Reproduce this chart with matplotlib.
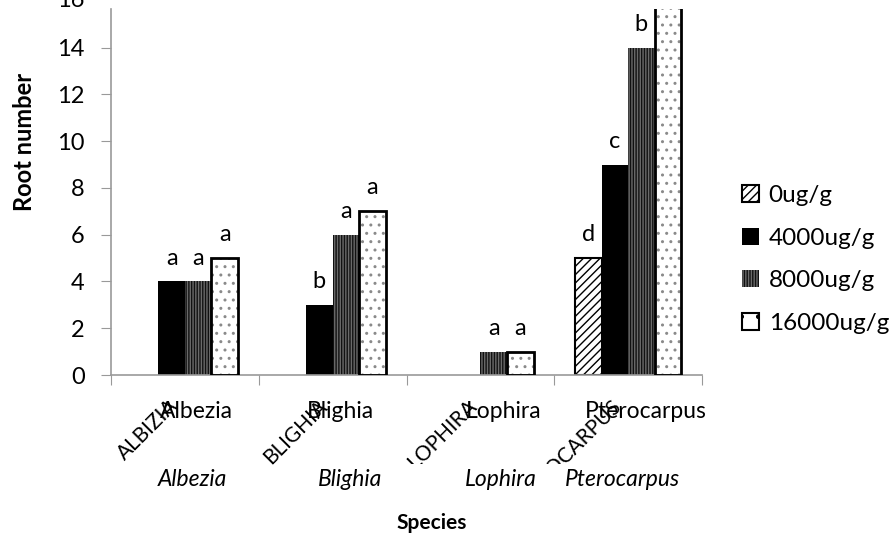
import matplotlib
matplotlib.use("Agg")
import matplotlib.pyplot as plt
from matplotlib.patches import Patch
from matplotlib.transforms import Bbox, TransformedBbox
import numpy as np

# data
species = ["Albezia", "Blighia", "Lophira", "Pterocarpus"]
species_caps = ["ALBIZIA", "BLIGHIA", "LOPHIRA", "PTEROCARPUS"]
doses = ["0ug/g", "4000ug/g", "8000ug/g", "16000ug/g"]
roots_0 = [0, 0, 0, 5]
roots_4000 = [4, 3, 0, 9]
roots_8000 = [4, 6, 1, 14]
roots_16000 = [5, 7, 1, 16]
letters_0 = ["", "", "", "d"]
letters_4000 = ["a", "b", "", "c"]
letters_8000 = ["a", "a", "a", "b"]
letters_16000 = ["a", "a", "a", ""]

plt.rcParams["font.family"] = ["Lato", "DejaVu Sans"]
plt.rcParams["hatch.linewidth"] = 1.0

fig = plt.figure(figsize=(8.96, 5.4), dpi=100)
ax = fig.add_axes([111 / 896, 1 - 375 / 540, 591 / 896, 366 / 540])

x = np.arange(len(species))
w = 0.18

series = [
    (roots_0, letters_0, dict(facecolor="white", edgecolor="black", hatch="////", linewidth=1.5)),
    (roots_4000, letters_4000, dict(facecolor="black", edgecolor="black", linewidth=0)),
    (roots_8000, letters_8000, dict(facecolor="#111111", edgecolor="#6a6a6a", hatch="||||||", linewidth=0)),
    (roots_16000, letters_16000, dict(facecolor="white", edgecolor="#8a8a8a", hatch="..", linewidth=0)),
]

handles = []
for k, (vals, lets, style) in enumerate(series):
    pos = x + (k - 1.5) * w
    vals = np.array(vals)
    keep = vals > 0  # empty groups show no bar at all
    ax.bar(pos[keep], vals[keep], width=w, zorder=2, **style)
    if k == 3:
        # dark outline on the dotted bars
        ax.bar(pos[keep], vals[keep], width=w, fill=False, edgecolor="black", linewidth=2, zorder=3)
        handles.append(Patch(facecolor="white", edgecolor="black", hatch=".", linewidth=1.5))
    else:
        handles.append(Patch(**style))
    for p, v, t in zip(pos, vals, lets):
        if t:
            ax.text(p, v + 1, t, ha="center", va="center", fontsize=17, zorder=4)

ax.set_xlim(-0.5, 3.5)
ax.set_ylim(0, 15.65)
ax.set_yticks(range(0, 16, 2))
ax.tick_params(axis="y", labelsize=17, length=7, color="#999999", pad=12)
ax.set_xticks(np.arange(-0.5, 4, 1))
ax.set_xticklabels([])
ax.tick_params(axis="x", length=7, color="#999999")
for s in ["top", "right"]:
    ax.spines[s].set_visible(False)
for s in ["left", "bottom"]:
    ax.spines[s].set_color("#999999")
    ax.spines[s].set_linewidth(1.2)

# the 16 label sits half outside the figure in the reference
ax.text(-26 / 591, 16, "16", transform=ax.get_yaxis_transform(), ha="right", va="center",
        fontsize=17, clip_on=False)

# three layers of category labels, as in the reference
normal_off = [0.08, 0.05, 0.16, 0.12]
italic_off = [0.05, 0.12, 0.14, -0.04]
caps_off = [-0.02, -0.01, 0.0, -0.02]
trans = ax.get_xaxis_transform()
clip = TransformedBbox(Bbox([[0, 76 / 540], [1, 1]]), fig.transFigure)
for i, name in enumerate(species):
    y_norm = -(411 - 375) / 366
    y_ital = -(480 - 375) / 366
    y_caps = -(396 - 375) / 366
    ax.text(i + normal_off[i], y_norm, name, transform=trans, ha="center", va="center",
            fontsize=16.5, clip_on=False)
    ax.text(i + italic_off[i], y_ital, name, transform=trans, ha="center", va="center",
            fontsize=16.5, style="italic", clip_on=False)
    t = ax.text(i + caps_off[i], y_caps, species_caps[i], transform=trans, ha="right", va="top",
                rotation=45, fontsize=15, clip_on=(i >= 2))
    if i >= 2:
        t.set_clip_box(clip)

fig.text(25 / 896, 1 - 142 / 540, "Root number", rotation=90, ha="center", va="center",
         fontsize=17, fontweight="bold")
fig.text(432 / 896, 1 - 523 / 540, "Species", ha="center", va="center",
         fontsize=15, fontweight="bold")

fig.legend(handles, doses, loc="center left", bbox_to_anchor=(742 / 896, 1 - 259.5 / 540),
           frameon=False, fontsize=17.5, handlelength=0.7, handleheight=0.7,
           handletextpad=0.4, labelspacing=0.9, borderpad=0, borderaxespad=0)

fig.savefig("out.png", dpi=100)
